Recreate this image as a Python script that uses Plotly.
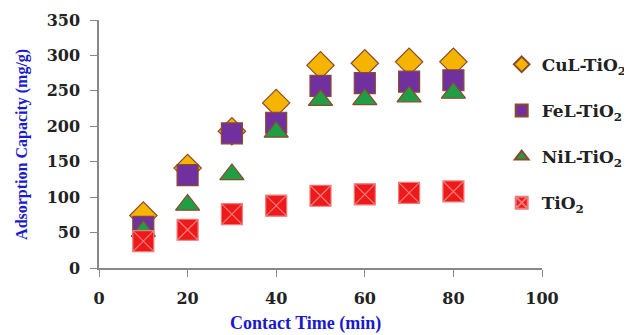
import plotly.graph_objects as go

time_min = [10, 20, 30, 40, 50, 60, 70, 80]
cul_tio2 = [74, 141, 193, 233, 286, 289, 291, 291]
fel_tio2 = [58, 131, 190, 205, 257, 261, 263, 265]
nil_tio2 = [52, 89, 132, 192, 237, 238, 242, 247]
tio2 = [38, 54, 76, 88, 102, 104, 106, 108]

series_names = ["CuL-TiO<sub>2</sub>", "FeL-TiO<sub>2</sub>", "NiL-TiO<sub>2</sub>", "TiO<sub>2</sub>"]
x_ticks = [0, 20, 40, 60, 80, 100]
y_ticks = [0, 50, 100, 150, 200, 250, 300, 350]
x_title = "Contact Time (min)"
y_title = "Adsorption Capacity (mg/g)"

styles = [
    dict(symbol="diamond", color="#f5b400", line=dict(color="#8b4a2b", width=1.2), size=21),
    dict(symbol="square", color="#7030a0", line=dict(color="#8b4a2b", width=1.2), size=21),
    dict(symbol="triangle-up", color="#1f9e45", line=dict(color="#8b4a2b", width=1.2), size=21),
    dict(symbol="square-x", color="#ee1a1a", line=dict(color="#f07a7a", width=1.2), size=21),
]

fig = go.Figure()
for name, vals, st in zip(series_names, [cul_tio2, fel_tio2, nil_tio2, tio2], styles):
    fig.add_trace(go.Scatter(
        x=time_min, y=vals, mode="markers", name=name, legendgroup=name,
        marker=dict(symbol=st["symbol"], color=st["color"], size=st["size"], line=st["line"]),
    ))

tick_font = "DejaVu Serif"
title_font = "Liberation Serif"
# page body has an 8px default margin, so the figure is sized/positioned to compensate
fig.update_layout(
    width=624, height=327,
    margin=dict(l=91, r=90, t=12, b=67, autoexpand=False),
    paper_bgcolor="white", plot_bgcolor="white",
    font=dict(family=tick_font, size=15, color="#222"),
    showlegend=True,
    legend=dict(
        x=0.909, y=0.892, xanchor="left", yanchor="top",
        itemsizing="constant", tracegroupgap=21, itemwidth=30,
        font=dict(family=tick_font, size=17, color="#222", weight="bold"),
        bgcolor="rgba(0,0,0,0)",
    ),
    xaxis=dict(
        range=[0, 100], tickvals=x_ticks, ticks="outside", ticklen=7, tickcolor="#888",
        showline=True, linecolor="#888", linewidth=1.5, showgrid=False, zeroline=False,
        automargin=False,
        tickfont=dict(family=tick_font, size=16, color="#222", weight="bold"),
        ticklabelstandoff=8,
    ),
    yaxis=dict(
        range=[0, 350], tickvals=y_ticks, ticks="outside", ticklen=7, tickcolor="#888",
        showline=True, linecolor="#888", linewidth=1.5, showgrid=False, zeroline=False,
        automargin=False,
        tickfont=dict(family=tick_font, size=16, color="#222", weight="bold"),
        ticklabelstandoff=7,
    ),
    annotations=[
        dict(
            text=x_title, xref="paper", yref="paper", x=0.467, y=-0.175,
            xanchor="center", yanchor="top", showarrow=False,
            font=dict(family=title_font, size=18, color="#1a1acc", weight="bold"),
        ),
        dict(
            text=y_title, xref="paper", yref="paper", x=-0.174, y=0.5,
            xanchor="center", yanchor="middle", textangle=-90, showarrow=False,
            font=dict(family=title_font, size=16, color="#1a1acc", weight="bold"),
        ),
    ],
)

fig.write_html("out.html")
